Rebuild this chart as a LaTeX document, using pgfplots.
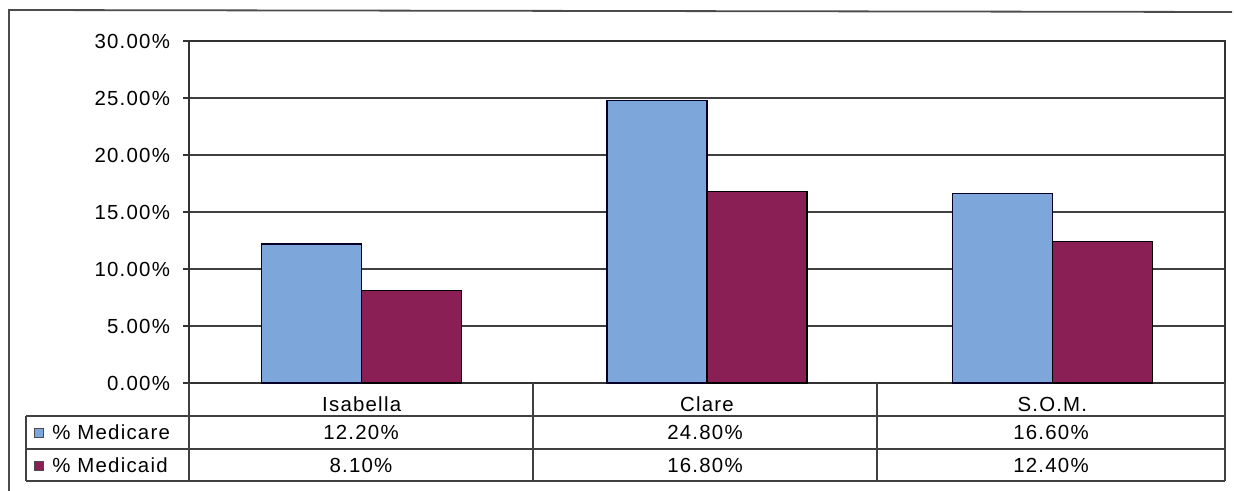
\documentclass[border=0pt]{standalone}
\usepackage{pgfplots}
\pgfplotsset{compat=1.18}
\usepackage{fontspec}
\setmainfont[LetterSpace=6]{Liberation Sans}
\definecolor{medicare}{HTML}{7DA6DA}
\definecolor{medicaid}{HTML}{8A1F55}
\begin{document}
\begin{tikzpicture}[font=\fontsize{10.2}{12}\selectfont]
\path[use as bounding box] (0,0) rectangle (617pt,-245.5pt);
\draw[black!70, line width=0.9pt] (4.5pt,-245.5pt) -- (4.5pt,-5pt) -- (616pt,-6pt);
\begin{axis}[
  at={(94.5pt,-191.5pt)}, anchor=south west,
  scale only axis, width=518pt, height=171pt,
  xmin=-0.5, xmax=2.5, ymin=0, ymax=30,
  ybar=0pt, bar width=50pt,
  xtick={0,1,2}, xticklabels={Isabella,Clare,S.O.M.},
  xtick style={draw=none},
  xticklabel style={anchor=center, yshift=-7.5pt},
  ytick={0,5,...,30},
  yticklabels={0.00\%,5.00\%,10.00\%,15.00\%,20.00\%,25.00\%,30.00\%},
  ytick pos=left, xtick pos=bottom,
  tick align=outside, major tick length=3pt,
  ymajorgrids, grid style={black!75, line width=0.6pt},
  axis line style={black!80, line width=0.6pt},
  ytick style={black!80, line width=0.6pt},
  yticklabel style={xshift=-3pt},
]
\addplot[fill=medicare, draw=black!85!blue, line width=0.7pt] coordinates {(0,12.2) (1,24.8) (2,16.6)};
\addplot[fill=medicaid, draw=black, line width=0.7pt] coordinates {(0,8.1) (1,16.8) (2,12.4)};
\end{axis}
\begin{scope}[x=0.5pt,y=-0.5pt]
\draw[black!75, line width=0.6pt]
  (189,383) -- (189,481) (533,383) -- (533,481) (877,383) -- (877,481) (1225,383) -- (1225,481)
  (26,416) -- (1225,416) (26,449) -- (1225,449) (26,481) -- (1225,481) (26,416) -- (26,481);
\draw[fill=medicare, draw=black!70, line width=0.5pt] (34,428) rectangle (43,437);
\draw[fill=medicaid, draw=black!70, line width=0.5pt] (34,461) rectangle (43,470);
\node[anchor=west, inner sep=0pt] at (52,432) {\% Medicare};
\node[anchor=west, inner sep=0pt] at (52,465) {\% Medicaid};
\node at (361,432) {12.20\%};
\node at (705,432) {24.80\%};
\node at (1051,432) {16.60\%};
\node at (361,465) {8.10\%};
\node at (705,465) {16.80\%};
\node at (1051,465) {12.40\%};
\end{scope}
\end{tikzpicture}
\end{document}
